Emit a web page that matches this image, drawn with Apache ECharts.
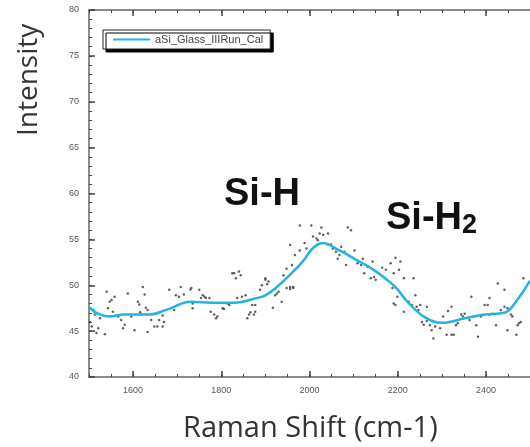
<!DOCTYPE html>
<html>
<head>
<meta charset="utf-8">
<script src="https://cdn.jsdelivr.net/npm/echarts@6/dist/echarts.min.js"></script>
<style>
  html, body { margin: 0; padding: 0; background: #fff; }
  #chart { width: 530px; height: 447px; }
</style>
</head>
<body>
<div id="chart"></div>
<script>
var dotShift = [1540,1547,1551,1558,1543,1554,1510,1513,1525,1502,1506,1521,1517,1536,1566,1573,1581,1577,1588,1596,
  1603,1611,1614,1622,1626,1629,1633,1616,1641,1633,1648,1655,1659,1667,1670,1667,1682,1693,1697,1704,
  1708,1715,1730,1732,1750,1758,1762,1765,1773,1754,1735,1735,1776,1784,1788,1791,1803,1806,1814,1818,
  1825,1829,1833,1840,1844,1836,1847,1855,1859,1863,1866,1870,1877,1874,1877,1888,1892,1900,1904,1907,
  1900,1922,1926,1930,1917,1937,1948,1956,1963,1941,1948,1960,1978,2004,2027,2087,2094,1956,1967,1978,
  1989,1993,2008,2016,2019,2031,2042,2023,2049,2053,2060,2064,2072,2079,2083,2068,2102,2109,2117,2121,
  2124,2132,2143,2139,2146,2150,2165,2173,2184,2191,1963,1956,2195,2206,2203,2191,2214,2188,2199,2195,
  2214,2225,2236,2240,2232,2243,2247,2251,2266,2255,2259,2266,2273,2277,2285,2281,2296,2303,2311,2318,
  2322,2327,2322,2314,2332,2336,2344,2352,2348,2367,2363,2374,2378,2382,2389,2397,2404,2408,2408,2415,
  2423,2427,2434,2442,2442,2449,2457,2460,2449,2472,2475,2479,2485,2469];
var dotIntensity = [49.3,48.2,48.4,48.75,47.5,47.1,47.3,46.8,46.4,46.0,45.5,45.3,44.8,44.65,46.6,46.2,45.7,45.3,49.1,46.6,
  45.1,48.2,47.9,49.8,49.0,47.55,47.3,47.05,46.2,44.9,45.5,45.5,46.2,46.7,46.0,45.5,49.5,47.3,48.9,48.75,
  49.8,49.0,49.55,49.7,49.5,48.9,48.75,48.6,48.6,48.6,48.0,47.5,47.1,46.8,46.4,46.6,47.5,47.4,48.0,47.85,
  51.3,51.3,50.75,51.5,51.1,48.6,48.75,48.9,46.4,46.8,47.05,47.85,47.85,46.8,47.1,49.5,50.0,50.6,50.1,50.4,
  50.75,48.9,49.1,49.3,47.55,48.2,49.7,49.6,49.7,51.1,51.8,52.2,56.5,56.5,56.3,56.3,56.0,54.4,53.3,53.8,
  54.6,54.0,55.3,55.1,54.9,55.5,55.65,55.65,54.45,54.0,53.65,52.9,54.2,53.65,52.2,53.3,53.8,52.4,52.2,52.9,
  51.3,52.0,52.6,50.75,50.9,50.6,51.9,51.7,52.4,48.0,49.8,49.8,53.0,52.6,51.7,51.3,50.75,49.7,48.75,47.85,
  47.1,48.2,50.75,48.9,47.85,47.65,47.3,47.85,47.65,46.0,45.7,46.1,45.65,45.1,45.5,44.2,45.3,46.6,44.6,46.0,
  44.6,44.6,47.65,47.2,45.65,45.85,46.8,46.9,46.6,48.75,46.2,46.6,45.65,44.4,46.6,47.85,47.85,48.6,46.8,46.9,
  45.65,50.2,47.3,49.5,47.65,47.5,46.8,46.6,45.1,45.65,45.85,46.0,50.75,44.6];

// smoothed calibration curve
var fitShift = [1500,1520,1545,1580,1635,1680,1730,1780,1830,1880,1900,1926,1955,1985,2003,2017,2030,2045,2060,2080,
  2105,2135,2165,2195,2224,2262,2300,2352,2397,2442,2471,2500];
var fitIntensity = [47.6,46.9,46.6,46.8,46.8,47.4,48.2,48.1,48.1,48.6,48.9,49.8,51.1,52.6,53.8,54.4,54.6,54.4,54.0,53.5,
  52.8,52.0,51.0,49.8,48.1,46.5,45.9,46.4,46.8,47.0,48.4,50.5];

var xLabels = [1600, 1800, 2000, 2200, 2400];
var yLabels = [40, 45, 50, 55, 60, 65, 70, 75, 80];
var seriesName = 'aSi_Glass_IIIRun_Cal';

var dots = dotShift.map(function (x, i) { return [x, dotIntensity[i]]; });
var fit = fitShift.map(function (x, i) { return [x, fitIntensity[i]]; });

var axisColor = '#666';
var labelStyle = { color: '#555', fontSize: 9, fontFamily: 'Liberation Sans' };

function xAx(pos, minor) {
  return {
    type: 'value', position: pos, min: 1500, max: 2500,
    interval: 50,
    axisLine: { show: minor, lineStyle: { color: axisColor, width: 1.5 } },
    axisTick: minor
      ? { show: true, inside: true, length: 3, lineStyle: { color: '#444' } }
      : { show: true, inside: true, length: 6, customValues: xLabels, lineStyle: { color: '#444', width: 1.5 } },
    axisLabel: (minor && pos === 'bottom')
      ? Object.assign({ show: true, customValues: xLabels, margin: 9,
          formatter: function (v) { return String(v); } }, labelStyle)
      : { show: false },
    splitLine: { show: false }
  };
}
function yAx(minor) {
  return {
    type: 'value', position: 'left', min: 40, max: 80,
    interval: 1,
    axisLine: { show: minor, lineStyle: { color: axisColor, width: 1.5 } },
    axisTick: minor
      ? { show: true, inside: true, length: 3, lineStyle: { color: '#444' } }
      : { show: true, inside: true, length: 6, customValues: yLabels, lineStyle: { color: '#444', width: 1.5 } },
    axisLabel: minor
      ? Object.assign({ show: true, customValues: yLabels, margin: 10 }, labelStyle)
      : { show: false },
    splitLine: { show: false }
  };
}

var chart = echarts.init(document.getElementById('chart'));
chart.setOption({
  animation: false,
  backgroundColor: '#fff',
  grid: { left: 89, top: 10, width: 446, height: 367 },
  legend: {
    data: [{ name: seriesName, icon: 'rect' }],
    left: 103, top: 30,
    itemWidth: 37, itemHeight: 2, itemGap: 6,
    padding: [4, 7, 4, 10],
    backgroundColor: '#fff',
    borderColor: '#222', borderWidth: 1, borderRadius: 0,
    shadowColor: '#000', shadowBlur: 0, shadowOffsetX: 3, shadowOffsetY: 3,
    textStyle: { color: '#444', fontSize: 11, fontFamily: 'Liberation Sans' }
  },
  xAxis: [xAx('bottom', true), xAx('bottom', false), xAx('top', true), xAx('top', false)],
  yAxis: [yAx(true), yAx(false)],
  series: [
    {
      name: 'dots', type: 'scatter', data: dots,
      symbolSize: 2.5, itemStyle: { color: '#3a3a3a' }, silent: true
    },
    {
      name: seriesName, type: 'line', data: fit,
      smooth: 0.4, symbol: 'none',
      lineStyle: { color: '#1db4e8', width: 2.5 },
      itemStyle: { color: '#1db4e8' }
    }
  ],
  graphic: [
    {
      type: 'text', left: 224, top: 176,
      style: { text: 'Si-H', fontSize: 38, fontWeight: 'bold', fontFamily: 'Liberation Sans', fill: '#111' }
    },
    {
      type: 'text', left: 386, top: 200,
      style: {
        text: 'Si-H{s|2}', fontSize: 38, fontWeight: 'bold', fontFamily: 'Liberation Sans', fill: '#111',
        rich: { s: { fontSize: 27, fontWeight: 'bold', fontFamily: 'Liberation Sans', fill: '#111', padding: [14, 0, 0, 0] } }
      }
    },
    {
      type: 'text', x: 15, y: 136, rotation: Math.PI / 2,
      style: { text: 'Intensity', fontSize: 28, fontFamily: 'Open Sans', fill: '#333' }
    },
    {
      type: 'text', left: 183, top: 414,
      style: { text: 'Raman Shift (cm-1)', fontSize: 29, fontFamily: 'Open Sans', fill: '#333' }
    }
  ]
});
</script>
</body>
</html>
